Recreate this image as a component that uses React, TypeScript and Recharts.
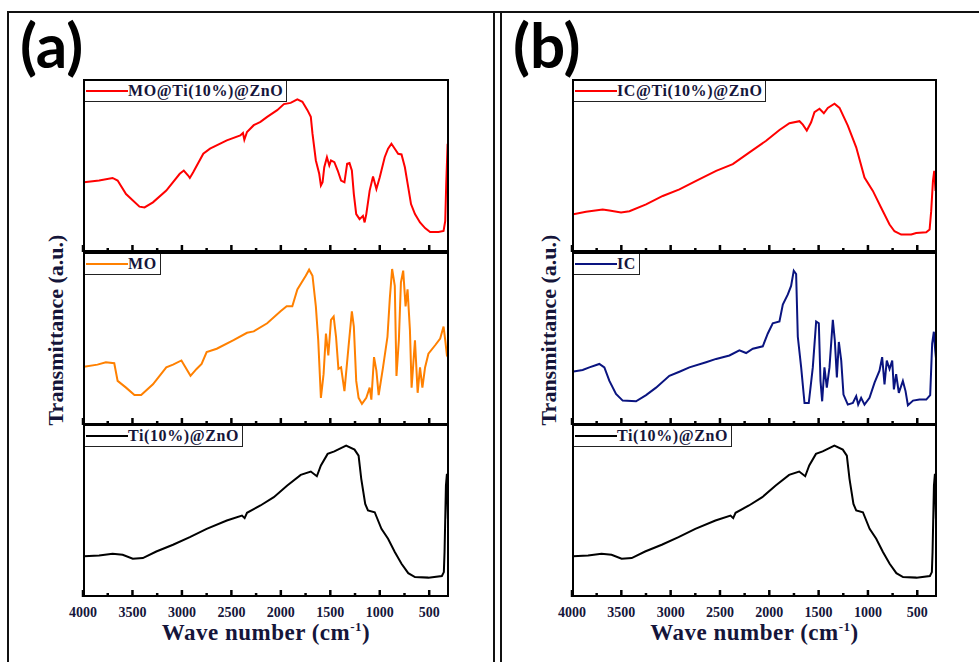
import React from 'react'
import { LineChart, Line, XAxis, YAxis, Legend } from 'recharts'

// wavenumber (cm-1), transmittance (a.u., 0-100 within each stacked box)
const moTiZnO: [number, number][] = [
  [3990, 40.3], [3837, 41.3], [3701, 42.8], [3650, 41.3], [3565, 33.5], [3429, 26.2], [3378, 25.8],
  [3293, 28.7], [3158, 35.5], [3022, 45.2], [2981, 47.1], [2937, 44.2], [2920, 42.8], [2886, 46.1],
  [2784, 56.8], [2716, 59.7], [2546, 64.5], [2410, 67.4], [2383, 68.8], [2369, 64.9], [2342, 69.4],
  [2274, 73.3], [2206, 75.2], [2138, 78.1], [2037, 82.0], [1969, 85.5], [1901, 86.2], [1833, 88.2],
  [1782, 86.8], [1731, 82.0], [1697, 78.1], [1680, 68.4], [1646, 52.9], [1612, 45.2], [1595, 38.4],
  [1578, 40.3], [1561, 49.0], [1534, 54.8], [1510, 50.0], [1493, 52.9], [1459, 51.9], [1425, 47.1],
  [1391, 41.3], [1357, 40.3], [1330, 51.0], [1306, 51.4], [1282, 47.1], [1262, 33.5], [1238, 21.9],
  [1204, 19.0], [1170, 20.9], [1153, 17.1], [1136, 21.9], [1102, 35.5], [1068, 43.6], [1034, 36.4],
  [1000, 43.2], [950, 54.8], [916, 59.7], [882, 62.6], [848, 59.7], [814, 56.8], [780, 56.4],
  [746, 49.0], [712, 37.4], [684, 27.7], [644, 21.9], [593, 17.1], [542, 13.8], [491, 11.6],
  [406, 11.6], [355, 12.2], [338, 18.0], [328, 39.3], [314, 62.6], [304, 54.8],
]

const mo: [number, number][] = [
  [3990, 33.7], [3854, 34.9], [3769, 36.3], [3684, 35.7], [3650, 25.5], [3565, 21.6], [3480, 17.3],
  [3412, 17.3], [3293, 23.5], [3158, 33.3], [3090, 34.9], [3005, 37.3], [2954, 32.4], [2913, 28.4],
  [2852, 32.4], [2801, 35.3], [2750, 42.2], [2648, 44.1], [2478, 49.0], [2342, 53.3], [2274, 54.1],
  [2138, 58.8], [2003, 65.7], [1941, 68.6], [1884, 68.6], [1833, 78.4], [1748, 86.3], [1714, 89.8],
  [1680, 86.3], [1646, 68.6], [1622, 49.0], [1595, 15.7], [1568, 29.4], [1544, 52.9], [1520, 40.2],
  [1493, 60.8], [1466, 62.7], [1442, 51.0], [1418, 32.4], [1391, 33.3], [1357, 19.6], [1316, 45.1],
  [1282, 65.7], [1262, 56.9], [1238, 25.5], [1214, 15.7], [1180, 12.2], [1136, 15.7], [1102, 21.6],
  [1085, 14.7], [1058, 39.2], [1034, 31.4], [1011, 17.3], [967, 33.3], [922, 51.0], [898, 73.5],
  [875, 90.2], [848, 80.4], [831, 28.4], [807, 49.0], [786, 82.4], [763, 89.2], [739, 68.6],
  [719, 78.4], [695, 54.9], [678, 21.6], [644, 49.0], [617, 18.6], [593, 33.3], [569, 21.6],
  [542, 33.3], [508, 41.2], [440, 46.1], [389, 50.0], [355, 56.9], [338, 49.0], [321, 40.2], [304, 38.6],
]

const tiZnO: [number, number][] = [
  [3990, 23.5], [3837, 24.0], [3701, 25.0], [3599, 24.4], [3497, 22.1], [3395, 22.5], [3259, 26.3],
  [3090, 30.2], [2920, 34.6], [2750, 39.4], [2546, 44.2], [2393, 47.1], [2366, 45.6], [2342, 48.7],
  [2206, 52.9], [2071, 57.7], [1935, 64.4], [1799, 70.6], [1697, 72.5], [1636, 69.8], [1595, 76.0],
  [1527, 82.7], [1459, 84.2], [1340, 87.5], [1255, 85.2], [1214, 81.7], [1187, 68.3], [1147, 53.8],
  [1119, 50.0], [1051, 49.0], [983, 39.4], [916, 33.7], [848, 26.0], [780, 19.2], [712, 13.8],
  [644, 11.5], [508, 11.2], [372, 12.1], [352, 14.4], [345, 26.0], [331, 64.4], [321, 71.2],
  [311, 45.2], [304, 71.2],
]

const icTiZnO: [number, number][] = [
  [4000, 21.7], [3858, 23.3], [3689, 24.6], [3621, 24.0], [3503, 22.9], [3418, 23.6], [3249, 27.5],
  [3080, 32.4], [2911, 36.2], [2742, 41.1], [2539, 46.9], [2370, 50.8], [2201, 57.6], [2032, 64.3],
  [1897, 70.5], [1796, 74.4], [1694, 75.6], [1660, 73.6], [1620, 70.2], [1576, 75.0], [1542, 80.8],
  [1491, 82.8], [1447, 80.2], [1407, 83.3], [1339, 85.7], [1288, 83.3], [1204, 73.1], [1119, 60.5],
  [1035, 43.0], [950, 35.3], [866, 25.6], [781, 15.9], [731, 12.0], [663, 10.1], [561, 10.1],
  [511, 11.0], [409, 11.4], [375, 13.0], [359, 23.6], [341, 41.1], [328, 46.9], [315, 35.3], [308, 45.0],
]

const ic: [number, number][] = [
  [4000, 30.8], [3892, 31.8], [3824, 33.3], [3723, 35.3], [3672, 33.3], [3621, 25.5], [3554, 18.0],
  [3486, 14.1], [3351, 13.7], [3249, 17.3], [3148, 21.6], [3013, 28.4], [2911, 30.8], [2810, 33.3],
  [2641, 36.3], [2539, 38.2], [2404, 40.2], [2303, 43.1], [2235, 41.6], [2167, 44.1], [2066, 45.5],
  [2015, 52.9], [1965, 58.8], [1897, 59.8], [1863, 69.6], [1812, 75.5], [1779, 80.4], [1752, 89.2],
  [1728, 87.3], [1711, 51.0], [1677, 33.3], [1643, 12.7], [1600, 12.7], [1559, 33.3], [1525, 59.8],
  [1498, 58.8], [1481, 25.5], [1464, 13.7], [1441, 33.3], [1417, 21.6], [1390, 33.3], [1356, 60.8],
  [1336, 49.0], [1315, 27.5], [1295, 48.0], [1271, 37.3], [1248, 17.6], [1204, 11.8], [1153, 12.7],
  [1119, 16.7], [1099, 11.8], [1069, 15.7], [1035, 11.8], [984, 15.7], [933, 24.5], [883, 31.4],
  [856, 39.2], [832, 23.5], [809, 37.3], [781, 32.4], [754, 37.3], [737, 20.6], [714, 29.4],
  [687, 18.6], [646, 25.5], [619, 19.6], [595, 11.4], [543, 14.1], [477, 14.7], [409, 14.7],
  [369, 17.3], [349, 47.1], [332, 53.9], [318, 43.1], [308, 37.3],
]

const xTicks = [4000, 3750, 3500, 3250, 3000, 2750, 2500, 2250, 2000, 1750, 1500, 1250, 1000, 750, 500]

const SERIF = '"Liberation Serif", "Times New Roman", serif'
const TEXT = '#15153a'

const ROW_TOP = [79, 252, 424]
const ROW_H = 173
const PAD = 20 // room for the edge tick labels

function WaveTick(props: any) {
  const { x, y, payload, showLabel } = props
  const major = payload.value % 500 === 0
  return (
    <g>
      <line x1={x} x2={x} y1={y} y2={y - (major ? 7 : 4)} stroke="#000" strokeWidth={2.5} />
      {showLabel && major && (
        <text x={x} y={y + 20} textAnchor="middle" fontFamily={SERIF} fontWeight={700}
          fontSize={14} fill={TEXT}>{payload.value}</text>
      )}
    </g>
  )
}

function legendContent(label: string, color: string) {
  return () => (
    <div style={{
      display: 'flex', alignItems: 'center', height: 23, border: '1px solid #222',
      background: '#fff', paddingRight: 3, boxSizing: 'border-box',
    }}>
      <span style={{ width: 42, height: 2, background: color, marginLeft: 2, marginRight: 0 }} />
      <span style={{
        fontFamily: SERIF, fontWeight: 700, fontSize: 16, color: TEXT, letterSpacing: 0.6,
        whiteSpace: 'nowrap',
      }}>{label}</span>
    </div>
  )
}

function Spectrum({ left, row, width, data, color, label }: {
  left: number, row: number, width: number, data: [number, number][], color: string, label: string
}) {
  const rows = data.map(([w, t]) => ({ w, t }))
  const bottom = row === 2
  return (
    <div style={{ position: 'absolute', left: left - PAD, top: ROW_TOP[row] }}>
      <LineChart width={width + 2 * PAD} height={ROW_H + 30} data={rows}
        margin={{ top: 0, right: PAD, bottom: 0, left: PAD }}>
        <XAxis dataKey="w" type="number" domain={[300, 4000]} reversed allowDataOverflow
          ticks={xTicks} interval={0} height={30} axisLine={false} tickLine={false}
          tickSize={0} tickMargin={0}
          tick={(p: any) => <WaveTick {...p} showLabel={bottom} />} />
        <YAxis hide domain={[0, 100]} />
        <Legend layout="horizontal" verticalAlign="middle" align="center"
          wrapperStyle={{ top: 0, left: PAD, width: 'auto' }}
          content={legendContent(label, color)} />
        <Line type="linear" dataKey="t" stroke={color} strokeWidth={2} dot={false}
          isAnimationActive={false} />
      </LineChart>
      <div style={{
        position: 'absolute', left: PAD, top: 0, width, height: ROW_H, boxSizing: 'border-box',
        border: '2.5px solid #000', pointerEvents: 'none',
      }} />
    </div>
  )
}

function Panel({ offset, tag, plotLeft, width, rows }: {
  offset: number, tag: string, plotLeft: number, width: number,
  rows: { data: [number, number][], color: string, label: string }[]
}) {
  return (
    <>
      <div style={{
        position: 'absolute', left: offset + 20, top: 13, fontFamily: 'Lato, "Open Sans", sans-serif',
        fontWeight: 700, fontSize: 62, lineHeight: 1, color: '#000',
      }}>{tag}</div>
      <div style={{
        position: 'absolute', left: offset + 56, top: 330, width: 0, height: 0,
      }}>
        <div style={{
          position: 'absolute', transform: 'translate(-50%, -50%) rotate(-90deg)',
          fontFamily: SERIF, fontWeight: 700, fontSize: 22, color: TEXT, whiteSpace: 'nowrap',
        }}>Transmittance (a.u.)</div>
      </div>
      {rows.map((r, i) => (
        <Spectrum key={r.label + i} left={plotLeft} row={i} width={width} {...r} />
      ))}
      <div style={{
        position: 'absolute', left: plotLeft + width / 2, top: 619, transform: 'translateX(-50%)',
        fontFamily: SERIF, fontWeight: 700, fontSize: 23, color: TEXT, whiteSpace: 'nowrap',
        letterSpacing: 0.5,
      }}>Wave number (cm<sup style={{ fontSize: 13 }}>-1</sup>)</div>
    </>
  )
}

export default function App() {
  return (
    <div style={{
      position: 'absolute', left: 0, top: 0, width: 979, height: 662, background: '#fff',
      overflow: 'hidden',
    }}>
      <div style={{ position: 'absolute', left: 8, top: 11, width: 971, height: 2, background: '#111' }} />
      <div style={{ position: 'absolute', left: 7, top: 11, width: 2, height: 651, background: '#111' }} />
      <div style={{ position: 'absolute', left: 493, top: 11, width: 2, height: 651, background: '#111' }} />
      <div style={{ position: 'absolute', left: 500, top: 11, width: 2, height: 651, background: '#111' }} />
      <Panel offset={0} tag="(a)" plotLeft={83} width={366} rows={[
        { data: moTiZnO, color: '#ff0000', label: 'MO@Ti(10%)@ZnO' },
        { data: mo, color: '#ff8000', label: 'MO' },
        { data: tiZnO, color: '#000000', label: 'Ti(10%)@ZnO' },
      ]} />
      <Panel offset={493} tag="(b)" plotLeft={572} width={365} rows={[
        { data: icTiZnO, color: '#ff0000', label: 'IC@Ti(10%)@ZnO' },
        { data: ic, color: '#0a1480', label: 'IC' },
        { data: tiZnO, color: '#000000', label: 'Ti(10%)@ZnO' },
      ]} />
    </div>
  )
}
